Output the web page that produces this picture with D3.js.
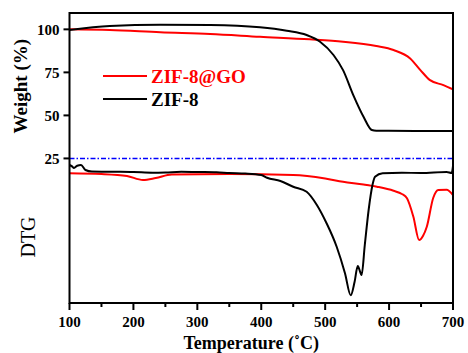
<!DOCTYPE html>
<html>
<head>
<meta charset="utf-8">
<script src="https://cdn.jsdelivr.net/npm/d3@7"></script>
<style>
  body { margin: 0; background: #fff; }
  svg text { font-family: "Liberation Serif", "Times New Roman", serif; }
</style>
</head>
<body>
<svg id="chart" width="468" height="353"></svg>
<script>
const margin = {top: 13, right: 15, bottom: 50, left: 69.5},
      nwidth = 468, nheight = 353,
      width = nwidth - margin.left - margin.right,
      height = nheight - margin.top - margin.bottom

// TG curves (weight %)
const tgTemp = [100, 163, 242, 320, 398, 440, 471, 492, 513, 528, 544, 560, 573, 580, 640, 700]
const tgZif8 = [99.6, 101.9, 102.7, 102.5, 101.2, 99.2, 96.7, 92.8, 85.1, 76.3, 61.8, 49.2, 41.5, 41.1, 41.0, 41.0]

const tgGoTemp = [100, 163, 242, 320, 398, 476, 528, 580, 607, 633, 649, 664, 685, 700]
const tgZif8Go = [100, 99.6, 98.3, 97.3, 95.7, 94.2, 92.8, 90.3, 88, 83.1, 76.3, 70.5, 67.6, 65.1]

// DTG curves (arbitrary units)
const dtgTemp = [100, 104, 107, 112, 118, 125, 135, 170, 200, 230, 250, 275, 300, 330, 350, 375, 400, 409, 430, 450, 471, 487, 502, 518, 531, 540, 546, 551, 557, 562, 568, 574, 578, 590, 620, 650, 690, 698, 700]
const dtgZif8 = [0.56, 0.45, 0.32, 0.5, 0.56, 0.16, 0.04, 0.02, 0, -0.06, -0.04, 0.02, 0, -0.02, -0.08, -0.12, -0.24, -0.46, -0.72, -1.18, -1.58, -2.64, -4.08, -5.98, -8.1, -9.86, -8.8, -7.52, -8.24, -5.84, -3.04, -1.04, -0.38, -0.1, -0.06, -0.08, 0, -0.08, 0.5]

const dtgGoTemp = [100, 150, 190, 215, 235, 260, 350, 450, 500, 528, 560, 581, 607, 620, 628, 638, 647, 653, 659, 669, 677, 690, 700]
const dtgZif8Go = [-0.1, -0.16, -0.32, -0.64, -0.48, -0.2, -0.16, -0.24, -0.52, -0.78, -1.0, -1.18, -1.5, -1.76, -2.1, -3.58, -5.44, -5.12, -4.38, -2.08, -1.44, -1.42, -1.84]

const xTicks = [100, 200, 300, 400, 500, 600, 700]
const xMinor = [150, 250, 350, 450, 550, 650]
const yTicks = [25, 50, 75, 100]

const svg = d3.select("#chart")
const g = svg.append("g").attr("transform", `translate(${margin.left},${margin.top})`)

const x = d3.scaleLinear().domain([100, 700]).range([0, width])
const weight = d3.scaleLinear().domain([-59, 109.5]).range([height, 0])
const dtg = d3.scaleLinear().domain([-10, 0]).range([284, 159])

// clip the curves inside the frame
svg.append("defs").append("clipPath").attr("id", "clip")
  .append("rect").attr("width", width).attr("height", height)

const plot = g.append("g").attr("clip-path", "url(#clip)")

// 25 % reference line
plot.append("line")
  .attr("x1", 0).attr("x2", width)
  .attr("y1", weight(25)).attr("y2", weight(25))
  .attr("stroke", "#0000ff").attr("stroke-width", 1.6)
  .attr("stroke-dasharray", "5,2,1.5,2")

const curve = (xs, ys, yScale) => d3.line()
  .x((d, i) => x(xs[i]))
  .y(d => yScale(d))
  .curve(d3.curveMonotoneX)(ys)

const series = [
  {xs: tgGoTemp, ys: tgZif8Go, scale: weight, color: "#ff0000"},
  {xs: dtgGoTemp, ys: dtgZif8Go, scale: dtg, color: "#ff0000"},
  {xs: tgTemp, ys: tgZif8, scale: weight, color: "#000"},
  {xs: dtgTemp, ys: dtgZif8, scale: dtg, color: "#000"}
]

plot.selectAll("path.curve").data(series).enter().append("path")
  .attr("class", "curve")
  .attr("d", s => curve(s.xs, s.ys, s.scale))
  .attr("fill", "none")
  .attr("stroke", s => s.color)
  .attr("stroke-width", 2)
  .attr("stroke-linejoin", "round")

// frame
g.append("rect").attr("width", width).attr("height", height)
  .attr("fill", "none").attr("stroke", "#000").attr("stroke-width", 2)

// x axis
const xAxis = g.append("g").attr("transform", `translate(0,${height})`)
xAxis.selectAll("line.major").data(xTicks).enter().append("line")
  .attr("x1", d => x(d)).attr("x2", d => x(d))
  .attr("y1", 0).attr("y2", 7)
  .attr("stroke", "#000").attr("stroke-width", 2)
xAxis.selectAll("line.minor").data(xMinor).enter().append("line")
  .attr("x1", d => x(d)).attr("x2", d => x(d))
  .attr("y1", 0).attr("y2", 4)
  .attr("stroke", "#000").attr("stroke-width", 2)
xAxis.selectAll("text").data(xTicks).enter().append("text")
  .attr("x", d => x(d)).attr("y", 24)
  .attr("text-anchor", "middle")
  .style("font-size", "15px").style("font-weight", "bold")
  .text(d => d)

// y axis (weight)
const yAxis = g.append("g")
yAxis.selectAll("line").data(yTicks).enter().append("line")
  .attr("x1", -6).attr("x2", 0)
  .attr("y1", d => weight(d)).attr("y2", d => weight(d))
  .attr("stroke", "#000").attr("stroke-width", 2)
yAxis.selectAll("text").data(yTicks).enter().append("text")
  .attr("x", -10).attr("y", d => weight(d)).attr("dy", "0.35em")
  .attr("text-anchor", "end")
  .style("font-size", "15px").style("font-weight", "bold")
  .text(d => d)

// axis titles
svg.append("text")
  .attr("x", margin.left + x(400) - 10).attr("y", 349)
  .attr("text-anchor", "middle")
  .style("font-size", "18px").style("font-weight", "bold")
  .text("Temperature (˚C)")

svg.append("text")
  .attr("transform", `translate(27,${margin.top + weight(67)}) rotate(-90)`)
  .attr("text-anchor", "middle")
  .style("font-size", "19px").style("font-weight", "bold")
  .text("Weight (%)")

svg.append("text")
  .attr("transform", `translate(35,237) rotate(-90)`)
  .attr("text-anchor", "middle")
  .style("font-size", "20px")
  .text("DTG")

// legend
const legend = [
  {name: "ZIF-8@GO", color: "#ff0000"},
  {name: "ZIF-8", color: "#000"}
]
const lg = svg.selectAll("g.legend").data(legend).enter().append("g")
  .attr("class", "legend")
  .attr("transform", (d, i) => `translate(103,${76 + i * 23})`)
lg.append("line").attr("x1", 0).attr("x2", 44)
  .attr("stroke", d => d.color).attr("stroke-width", 2)
lg.append("text").attr("x", 48).attr("dy", "0.35em")
  .style("font-size", "19px").style("font-weight", "bold")
  .attr("fill", d => d.color)
  .text(d => d.name)
</script>
</body>
</html>
